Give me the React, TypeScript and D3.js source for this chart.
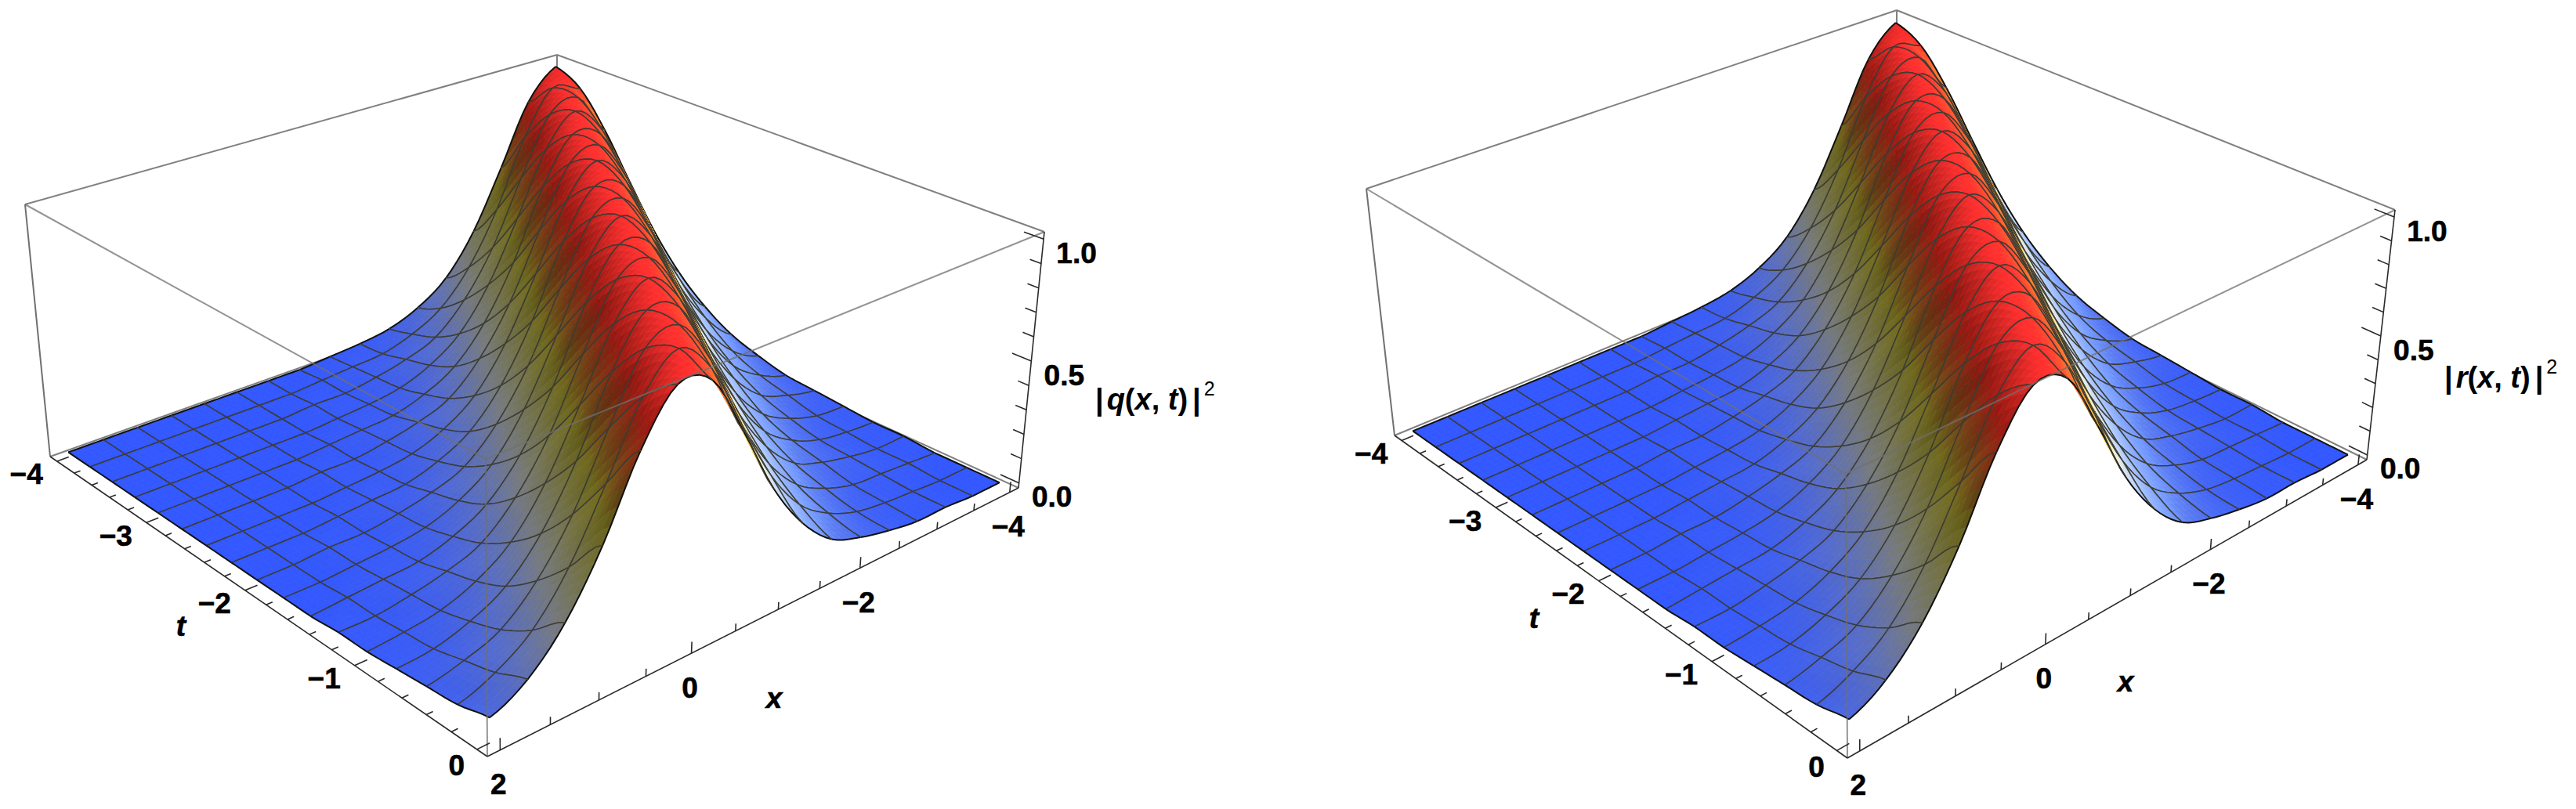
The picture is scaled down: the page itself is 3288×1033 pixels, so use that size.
import React, { useRef, useEffect } from "react";
import * as d3 from "d3";

// sampled axes of the mesh
const xValues = d3.range(17).map((i) => -4 + i * 0.375);
const tValues = d3.range(17).map((j) => -4 + j * 0.25);

// |q|^2, one row per t (-4 .. 0), one column per x (-4 .. 2)
const qRows = [
  [1.0, 0.87, 0.6, 0.35, 0.18, 0.09, 0.04, 0.02, 0.01, 0, 0, 0, 0, 0, 0, 0, 0],
  [0.94, 0.98, 0.79, 0.5, 0.28, 0.14, 0.07, 0.03, 0.02, 0.01, 0, 0, 0, 0, 0, 0, 0],
  [0.79, 0.98, 0.94, 0.69, 0.42, 0.23, 0.11, 0.06, 0.03, 0.01, 0.01, 0, 0, 0, 0, 0, 0],
  [0.6, 0.87, 1.0, 0.87, 0.6, 0.35, 0.18, 0.09, 0.04, 0.02, 0.01, 0, 0, 0, 0, 0, 0],
  [0.42, 0.69, 0.94, 0.98, 0.79, 0.5, 0.28, 0.14, 0.07, 0.03, 0.02, 0.01, 0, 0, 0, 0, 0],
  [0.28, 0.5, 0.79, 0.98, 0.94, 0.69, 0.42, 0.23, 0.11, 0.06, 0.03, 0.01, 0.01, 0, 0, 0, 0],
  [0.18, 0.35, 0.6, 0.87, 1.0, 0.87, 0.6, 0.35, 0.18, 0.09, 0.04, 0.02, 0.01, 0, 0, 0, 0],
  [0.11, 0.23, 0.42, 0.69, 0.94, 0.98, 0.79, 0.5, 0.28, 0.14, 0.07, 0.03, 0.02, 0.01, 0, 0, 0],
  [0.07, 0.14, 0.28, 0.5, 0.79, 0.98, 0.94, 0.69, 0.42, 0.23, 0.11, 0.06, 0.03, 0.01, 0.01, 0, 0],
  [0.04, 0.09, 0.18, 0.35, 0.6, 0.87, 1.0, 0.87, 0.6, 0.35, 0.18, 0.09, 0.04, 0.02, 0.01, 0, 0],
  [0.03, 0.06, 0.11, 0.23, 0.42, 0.69, 0.94, 0.98, 0.79, 0.5, 0.28, 0.14, 0.07, 0.03, 0.02, 0.01, 0],
  [0.02, 0.03, 0.07, 0.14, 0.28, 0.5, 0.79, 0.98, 0.94, 0.69, 0.42, 0.23, 0.11, 0.06, 0.03, 0.01, 0.01],
  [0.01, 0.02, 0.04, 0.09, 0.18, 0.35, 0.6, 0.87, 1.0, 0.87, 0.6, 0.35, 0.18, 0.09, 0.04, 0.02, 0.01],
  [0.01, 0.01, 0.03, 0.06, 0.11, 0.23, 0.42, 0.69, 0.94, 0.98, 0.79, 0.5, 0.28, 0.14, 0.07, 0.03, 0.02],
  [0, 0.01, 0.02, 0.03, 0.07, 0.14, 0.28, 0.5, 0.79, 0.98, 0.94, 0.69, 0.42, 0.23, 0.11, 0.06, 0.03],
  [0, 0, 0.01, 0.02, 0.04, 0.09, 0.18, 0.35, 0.6, 0.87, 1.0, 0.87, 0.6, 0.35, 0.18, 0.09, 0.04],
  [0, 0, 0.01, 0.01, 0.03, 0.06, 0.11, 0.23, 0.42, 0.69, 0.94, 0.98, 0.79, 0.5, 0.28, 0.14, 0.07],
];
// |r|^2 reads the same as |q|^2 within what can be told from the picture
const rRows = qRows;

// tick labels
const tTickLabels = [-4, -3, -2, -1, 0];
const xTickLabels = [2, 0, -2, -4];
const zTickLabels = [0, 0.5, 1];

// colours by height: shadow side first, lit side second
const heightStops = [0, 0.25, 0.55, 0.85, 1];
const heightColors = ["#3358ff", "#9aa0a8", "#d8cc38", "#ff2a1e", "#ff3030"];
const litStops = [0, 0.12, 0.3, 0.45, 0.6, 0.85, 1];
const litColors = ["#3358ff", "#6f96ff", "#b6d0ff", "#f4f4e0", "#ffd040", "#ff7a30", "#ff3030"];

const SUB = 5;

type Pt = [number, number];

// unit square to quad: (0,0) a, (1,0) b, (1,1) c, (0,1) d
function quadMap(a: Pt, b: Pt, c: Pt, d: Pt) {
  const dx1 = b[0] - c[0], dx2 = d[0] - c[0], sx = a[0] - b[0] + c[0] - d[0];
  const dy1 = b[1] - c[1], dy2 = d[1] - c[1], sy = a[1] - b[1] + c[1] - d[1];
  const den = dx1 * dy2 - dx2 * dy1;
  const g = (sx * dy2 - dx2 * sy) / den;
  const h = (dx1 * sy - sx * dy1) / den;
  const A = b[0] - a[0] + g * b[0], B = d[0] - a[0] + h * d[0];
  const D = b[1] - a[1] + g * b[1], E = d[1] - a[1] + h * d[1];
  return (u: number, v: number): Pt => {
    const w = g * u + h * v + 1;
    return [(A * u + B * v + a[0]) / w, (D * u + E * v + a[1]) / w];
  };
}

const uScale = d3.scaleLinear().domain([2.125, -4.125]).range([0, 1]);
const vScale = d3.scaleLinear().domain([0.08, -4.08]).range([0, 1]);
const wScale = d3.scaleLinear().domain([-0.02, 1.03]).range([0, 1]);
const heightColor = d3.scaleLinear<string>().domain(heightStops).range(heightColors);
const litColor = d3.scaleLinear<string>().domain(litStops).range(litColors);

const shade = (zRaw: number, gx: number) => {
  const z = Math.max(0, Math.min(1, zRaw));
  if (gx <= 0) {
    // slope facing left of the picture, in shadow
    const s = -gx;
    const f = 1 - 0.35 * s - 0.45 * s * s;
    const c = d3.rgb(heightColor(z));
    return d3.rgb(c.r * f, c.g * f, c.b * f).formatHex();
  }
  return d3.interpolateRgb(heightColor(z), litColor(z))(Math.min(1, gx / 0.25));
};

const cr = (a: number, b: number, c: number, d: number, f: number) =>
  0.5 * (2 * b + (c - a) * f + (2 * a - 5 * b + 4 * c - d) * f * f + (3 * b - a - 3 * c + d) * f * f * f);

const Panel = ({ box, rows, titleLetter, titlePos, xTitlePos, tTitlePos }: any) => {
  const ref = useRef<SVGGElement>(null);

  useEffect(() => {
    const root = d3.select(ref.current);
    root.selectAll("*").remove();

    const base = quadMap(box.F, box.R, box.B, box.L);
    const top = quadMap(box.Ft, box.Rt, box.Bt, box.Lt);
    const project = (x: number, t: number, z: number): Pt => {
      const u = uScale(x), v = vScale(t), w = wScale(z);
      const p0 = base(u, v), p1 = top(u, v);
      return [p0[0] + (p1[0] - p0[0]) * w, p0[1] + (p1[1] - p0[1]) * w];
    };
    const line = d3.line();
    const n = xValues.length;
    const idx = (k: number) => Math.max(0, Math.min(n - 1, k));

    // smooth reading between the mesh samples, fi and fj in grid units
    const zAt = (fi: number, fj: number) => {
      const gi = Math.max(0, Math.min(n - 1, fi)), gj = Math.max(0, Math.min(n - 1, fj));
      const i = Math.min(n - 2, Math.floor(gi)), j = Math.min(n - 2, Math.floor(gj));
      const rowAt = (r: number) =>
        cr(rows[idx(r)][idx(i - 1)], rows[idx(r)][i], rows[idx(r)][i + 1], rows[idx(r)][idx(i + 2)], gi - i);
      return Math.max(0, cr(rowAt(j - 1), rowAt(j), rowAt(j + 1), rowAt(j + 2), gj - j));
    };

    const back = root.append("g").attr("fill", "none").attr("stroke", "#808080").attr("stroke-width", 2);
    const seg = (g: any, a: Pt, b: Pt) => g.append("path").attr("d", line([a, b]));
    seg(back, box.Lt, box.Bt);
    seg(back, box.Bt, box.Rt);
    seg(back, box.Bt, box.B);
    seg(back, box.L, box.B);
    seg(back, box.B, box.R);

    // back to front: the viewer sits past x = 2, t = 0
    const items: { d: string; fill: string; stroke: string; w: number }[] = [];
    for (let j = 0; j < n - 1; j++) {
      for (let i = 0; i < n - 1; i++) {
        const x = d3.scaleLinear().domain([0, SUB]).range([xValues[i], xValues[i + 1]]);
        const t = d3.scaleLinear().domain([0, SUB]).range([tValues[j], tValues[j + 1]]);
        const at = (p: number, q: number): Pt => project(x(p), t(q), zAt(i + p / SUB, j + q / SUB));
        for (let q = 0; q < SUB; q++) {
          for (let p = 0; p < SUB; p++) {
            const fi = i + (p + 0.5) / SUB, fj = j + (q + 0.5) / SUB;
            const gx = (zAt(fi + 0.25, fj) - zAt(fi - 0.25, fj)) / (0.5 * 0.375);
            const fill = shade(zAt(fi, fj), gx);
            items.push({
              d: line([at(p, q), at(p + 1, q), at(p + 1, q + 1), at(p, q + 1)]) + "Z",
              fill, stroke: fill, w: 0.8,
            });
          }
        }
        const edge = (pts: Pt[], isBoundary: boolean) =>
          items.push({
            d: line(pts) as string, fill: "none",
            stroke: isBoundary ? "#111111" : "#3c3c34", w: isBoundary ? 2 : 1.5,
          });
        const steps = d3.range(SUB + 1);
        edge(steps.map((p) => at(p, 0)), j === 0);
        edge(steps.map((p) => at(p, SUB)), j === n - 2);
        edge(steps.map((q) => at(0, q)), i === 0);
        edge(steps.map((q) => at(SUB, q)), i === n - 2);
      }
    }
    root.append("g").selectAll("path").data(items).join("path")
      .attr("d", (d) => d.d)
      .attr("fill", (d) => d.fill)
      .attr("stroke", (d) => d.stroke)
      .attr("stroke-width", (d) => d.w);

    // front edges of the box
    const front = root.append("g").attr("fill", "none").attr("stroke", "#707070").attr("stroke-width", 2);
    seg(front, box.Lt, box.Ft).attr("stroke-opacity", 0.75);
    seg(front, box.Ft, box.Rt).attr("stroke-opacity", 0.75);
    seg(front, box.Ft, box.F).attr("stroke-opacity", 0.75);
    seg(front, box.Lt, box.L);

    const axes = root.append("g").attr("fill", "none").attr("stroke", "#2a2a2a").attr("stroke-width", 1.6);
    seg(axes, box.L, box.F);
    seg(axes, box.F, box.R);
    seg(axes, box.Rt, box.R);

    // ticks
    d3.range(-4, 0.01, 0.2).forEach((t) => {
      const major = Math.abs(t - Math.round(t)) < 0.01;
      seg(axes, project(2.125, t, -0.02), project(major ? 2.0 : 2.06, t, -0.02));
    });
    d3.range(-4, 2.01, 0.5).forEach((x) => {
      const major = Math.abs(x / 2 - Math.round(x / 2)) < 0.01;
      seg(axes, project(x, 0.08, -0.02), project(x, 0.08, major ? 0.023 : 0.008));
    });
    d3.range(0, 1.01, 0.1).forEach((z) => {
      const major = Math.abs(z * 2 - Math.round(z * 2)) < 0.01;
      seg(axes, project(-4.125, 0.08, z), project(-4.125, major ? -0.06 : 0.0, z));
    });

    // labels
    const label = (p: Pt, s: string, dx: number, dy: number) =>
      root.append("text")
        .attr("x", p[0] + dx).attr("y", p[1] + dy)
        .attr("text-anchor", "middle").attr("dominant-baseline", "central")
        .attr("font-family", "'Liberation Sans', Arial, sans-serif").attr("font-weight", 700)
        .attr("font-size", 37).attr("fill", "#000").attr("stroke", "#000").attr("stroke-width", 0.6)
        .text(s);
    const minus = (v: number) => (v < 0 ? "\u2212" + Math.abs(v) : String(v));
    tTickLabels.forEach((t) =>
      label(project(2.125, t, -0.02), minus(t), t < 0 ? -39 : -26, t < 0 ? 17 : 21));
    xTickLabels.forEach((x) => label(project(x, 0.08, -0.02), minus(x), -2, 44));
    zTickLabels.forEach((z) => label(project(-4.125, 0.08, z), z.toFixed(1), 42, 18));
    label(tTitlePos, "t", 0, 0).attr("font-style", "italic");
    label(xTitlePos, "x", 0, 0).attr("font-style", "italic");

    const title = root.append("text")
      .attr("x", titlePos[0]).attr("y", titlePos[1])
      .attr("font-family", "'Liberation Sans', Arial, sans-serif").attr("font-weight", 700)
      .attr("font-size", 38).attr("fill", "#000");
    title.append("tspan").text("|");
    title.append("tspan").attr("dx", 4).attr("font-style", "italic").text(titleLetter);
    title.append("tspan").text("(");
    title.append("tspan").attr("font-style", "italic").text("x");
    title.append("tspan").text(", ");
    title.append("tspan").attr("font-style", "italic").text("t");
    title.append("tspan").text(")");
    title.append("tspan").attr("dx", 6).text("|");
    title.append("tspan").attr("dx", 4).attr("dy", -18).attr("font-size", 25).attr("font-weight", 400).text("2");
  }, []);

  return <g ref={ref} />;
};

const leftBox = {
  L: [64, 583], F: [622, 966], R: [1300, 623], B: [710, 353],
  Lt: [32, 261], Ft: [620, 586], Rt: [1333, 296], Bt: [711, 70],
};
const rightBox = {
  L: [1780, 556], F: [2358, 968], R: [3021, 587], B: [2421, 291],
  Lt: [1744, 241], Ft: [2356, 605], Rt: [3057, 268], Bt: [2421, 13],
};

export default function App() {
  return (
    <svg width={3288} height={1033} style={{ position: "absolute", left: 0, top: 0, background: "#fff" }}>
      <Panel box={leftBox} rows={qRows} titleLetter="q" titlePos={[1398, 523]} xTitlePos={[988, 891]} tTitlePos={[231, 799]} />
      <Panel box={rightBox} rows={rRows} titleLetter="r" titlePos={[3120, 495]} xTitlePos={[2713, 870]} tTitlePos={[1958, 789]} />
    </svg>
  );
}
